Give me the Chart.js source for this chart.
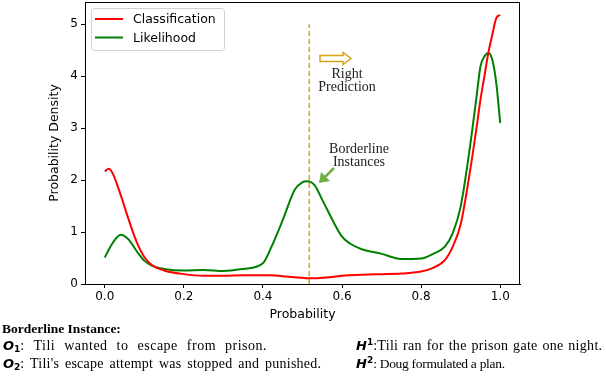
<!DOCTYPE html>
<html lang="en">
<head>
    <meta charset="UTF-8">
    <title>Probability Density</title>
    <script src="https://cdn.jsdelivr.net/npm/chart.js"></script>
    <style>
        body { margin: 0; background: #fff; }
        #wrap { position: relative; width: 606px; height: 376px; overflow: hidden; }
        #chart { position: absolute; left: 0; top: 0; }
        .note { position: absolute; font-family: "Liberation Serif", serif; font-size: 14px; color: #000; white-space: nowrap; line-height: 16px; }
        .note b.m { font-family: "DejaVu Sans", sans-serif; font-style: italic; font-size: 13px; letter-spacing: 0; }
        .note b.m sub, .note b.m sup { font-size: 9px; font-style: normal; vertical-align: baseline; position: relative; }
        .note b.m sub { top: 2px; }
        .note b.m sup { top: -5px; }
    </style>
</head>
<body>
    <div id="wrap">
        <canvas id="chart" width="606" height="322"></canvas>
        <div class="note" style="left:2px; top:321px; font-weight:bold; font-size:13.5px;">Borderline Instance:</div>
        <div class="note" style="left:3px; top:338px; letter-spacing:0.5px; word-spacing:5px;"><b class="m">O<sub>1</sub></b>: Tili wanted to escape from prison.</div>
        <div class="note" style="left:3px; top:356px; letter-spacing:0.25px; word-spacing:2px;"><b class="m">O<sub>2</sub></b>: Tili's escape attempt was stopped and punished.</div>
        <div class="note" style="left:356px; top:338px; letter-spacing:0.3px; word-spacing:1px;"><b class="m">H<sup>1</sup></b>:Tili ran for the prison gate one night.</div>
        <div class="note" style="left:356px; top:356px; font-size:13.5px; letter-spacing:-0.3px;"><b class="m">H<sup>2</sup></b>: Doug formulated a plan.</div>
    </div>

    <script>
        // values
        const probX = [0, 0.01, 0.02, 0.04, 0.06, 0.08, 0.1, 0.12, 0.15, 0.2, 0.25, 0.3, 0.35, 0.4, 0.42, 0.45, 0.48, 0.5, 0.51, 0.53, 0.55, 0.58, 0.6, 0.62, 0.65, 0.7, 0.75, 0.8, 0.83, 0.86, 0.88, 0.9, 0.92, 0.94, 0.95, 0.96, 0.97, 0.98, 0.99, 1.0];
        const classification = [2.17, 2.22, 2.13, 1.72, 1.25, 0.82, 0.52, 0.36, 0.26, 0.19, 0.16, 0.16, 0.17, 0.17, 0.17, 0.15, 0.13, 0.12, 0.11, 0.11, 0.12, 0.14, 0.16, 0.17, 0.18, 0.19, 0.2, 0.24, 0.31, 0.46, 0.72, 1.15, 2.0, 3.0, 3.55, 4.0, 4.45, 4.8, 5.12, 5.18];
        const likelihood = [0.51, 0.66, 0.79, 0.95, 0.86, 0.64, 0.45, 0.35, 0.29, 0.26, 0.27, 0.25, 0.29, 0.4, 0.69, 1.23, 1.81, 1.96, 1.98, 1.91, 1.62, 1.17, 0.91, 0.78, 0.67, 0.58, 0.48, 0.49, 0.58, 0.72, 0.98, 1.49, 2.45, 3.6, 4.19, 4.38, 4.45, 4.32, 3.87, 3.1];
        const thresholdX = [0.517, 0.517];
        const thresholdY = [0, 5.0];
        const xTicks = [0, 0.2, 0.4, 0.6, 0.8, 1.0];
        const yTicks = [0, 1, 2, 3, 4, 5];

        const tickFont = { family: 'DejaVu Sans', size: 12 };
        const gold = '#d9a21b';

        const pts = (xs, ys) => xs.map((x, i) => ({ x: x, y: ys[i] }));

        // box around the plot, legend and the two annotations
        const extras = {
            id: 'extras',
            afterDatasetsDraw(chart) {
                const c = chart.ctx, a = chart.chartArea;
                c.save();
                c.strokeStyle = '#000';
                c.lineWidth = 1;
                c.strokeRect(a.left + 0.5, a.top + 0.5, a.right - a.left - 1, a.bottom - a.top);

                // legend
                c.fillStyle = 'rgba(255,255,255,0.85)';
                c.strokeStyle = '#d0d0d0';
                c.beginPath();
                c.roundRect(91.5, 8.5, 133, 42, 3);
                c.fill();
                c.stroke();
                const items = chart.data.datasets.filter(d => d.inLegend);
                items.forEach((d, i) => {
                    const y = 19 + i * 18.5;
                    c.strokeStyle = d.borderColor;
                    c.lineWidth = 2;
                    c.beginPath();
                    c.moveTo(95, y);
                    c.lineTo(123, y);
                    c.stroke();
                    c.fillStyle = '#000';
                    c.font = '12.5px "DejaVu Sans"';
                    c.textBaseline = 'middle';
                    c.fillText(d.label, 133, y + 1);
                });

                // hollow arrow for "Right Prediction"
                c.strokeStyle = gold;
                c.lineWidth = 1.5;
                c.beginPath();
                c.moveTo(320, 55.5);
                c.lineTo(343, 55.5);
                c.lineTo(343, 52.5);
                c.lineTo(351, 58.5);
                c.lineTo(343, 64.5);
                c.lineTo(343, 61.5);
                c.lineTo(320, 61.5);
                c.closePath();
                c.stroke();

                c.fillStyle = '#222';
                c.font = '14px "Liberation Serif"';
                c.textAlign = 'center';
                c.textBaseline = 'middle';
                c.fillText('Right', 347, 74);
                c.fillText('Prediction', 347, 87);
                c.fillText('Borderline', 359, 149);
                c.fillText('Instances', 359, 162);

                // green arrow to the middle peak
                c.strokeStyle = '#70ad47';
                c.fillStyle = '#70ad47';
                c.lineWidth = 2.5;
                c.beginPath();
                c.moveTo(334, 168);
                c.lineTo(324, 178);
                c.stroke();
                c.beginPath();
                c.moveTo(319, 183);
                c.lineTo(321, 172);
                c.lineTo(330, 181);
                c.closePath();
                c.fill();
                c.restore();
            }
        };

        const ctx = document.getElementById('chart').getContext('2d');
        const chart = new Chart(ctx, {
            type: 'line',
            data: {
                datasets: [{
                    label: 'Classification',
                    data: pts(probX, classification),
                    borderColor: '#ff0000',
                    borderWidth: 2,
                    inLegend: true
                }, {
                    label: 'Likelihood',
                    data: pts(probX, likelihood),
                    borderColor: '#008000',
                    borderWidth: 2,
                    inLegend: true
                }, {
                    label: 'threshold',
                    data: pts(thresholdX, thresholdY),
                    borderColor: gold,
                    borderWidth: 1.5,
                    borderDash: [5, 3],
                    cubicInterpolationMode: 'default',
                    tension: 0
                }]
            },
            options: {
                responsive: false,
                animation: false,
                cubicInterpolationMode: 'monotone',
                elements: { point: { radius: 0 } },
                layout: { padding: { top: 2, right: 86, left: 0, bottom: 0 } },
                plugins: { legend: { display: false }, tooltip: { enabled: false } },
                scales: {
                    x: {
                        type: 'linear',
                        min: -0.05,
                        max: 1.05,
                        afterBuildTicks: s => { s.ticks = xTicks.map(v => ({ value: v })); },
                        afterFit: s => { s.height = 38; s.paddingLeft = 0; s.paddingRight = 0; },
                        grid: { display: true, drawOnChartArea: false, drawTicks: true, tickLength: 4, color: '#000' },
                        border: { display: true, color: '#000', width: 1 },
                        ticks: { color: '#000', font: tickFont, padding: 2, maxRotation: 0, callback: v => v.toFixed(1) },
                        title: { display: true, text: 'Probability', color: '#000', font: { family: 'DejaVu Sans', size: 12.5 }, padding: { top: 0, bottom: 0 } }
                    },
                    y: {
                        type: 'linear',
                        min: 0,
                        max: 5.43,
                        afterBuildTicks: s => { s.ticks = yTicks.map(v => ({ value: v })); },
                        afterFit: s => { s.width = 85; s.paddingTop = 0; s.paddingBottom = 0; },
                        grid: { display: true, drawOnChartArea: false, drawTicks: true, tickLength: 4, color: '#000' },
                        border: { display: true, color: '#000', width: 1 },
                        ticks: { color: '#000', font: tickFont, padding: 3, callback: v => String(v) },
                        title: { display: true, text: 'Probability Density', color: '#000', font: { family: 'DejaVu Sans', size: 12.5 }, padding: { top: 47, bottom: 0 } }
                    }
                }
            },
            plugins: [extras]
        });
    </script>
</body>
</html>
